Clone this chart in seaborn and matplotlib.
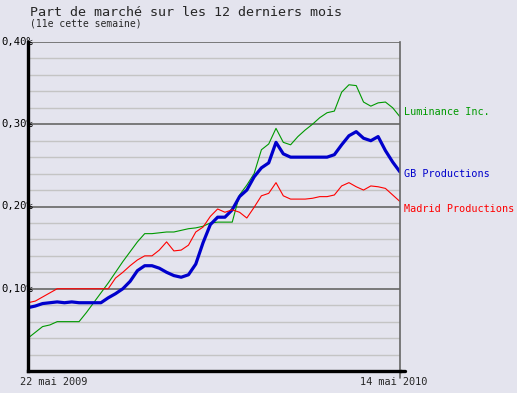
import pandas as pd
import numpy as np
import seaborn as sns
import matplotlib.pyplot as plt

# weekly market share, 22 mai 2009 -> 14 mai 2010
weeks = pd.date_range("2009-05-22", periods=52, freq="7D")

luminance = [0.040, 0.047, 0.054, 0.056, 0.060, 0.060, 0.060, 0.060, 0.071, 0.083,
             0.095, 0.107, 0.120, 0.133, 0.145, 0.157, 0.167, 0.167, 0.168, 0.169,
             0.169, 0.171, 0.173, 0.174, 0.176, 0.180, 0.181, 0.181, 0.181, 0.214,
             0.226, 0.240, 0.269, 0.276, 0.295, 0.278, 0.275, 0.285, 0.293, 0.300,
             0.308, 0.314, 0.316, 0.339, 0.348, 0.347, 0.327, 0.322, 0.326, 0.327,
             0.320, 0.309]
gb = [0.077, 0.079, 0.082, 0.083, 0.084, 0.083, 0.084, 0.083, 0.083, 0.083,
      0.083, 0.089, 0.094, 0.100, 0.109, 0.122, 0.128, 0.128, 0.125, 0.120,
      0.116, 0.114, 0.117, 0.130, 0.156, 0.178, 0.187, 0.187, 0.196, 0.212,
      0.220, 0.236, 0.247, 0.253, 0.278, 0.264, 0.260, 0.260, 0.260, 0.260,
      0.260, 0.260, 0.263, 0.275, 0.286, 0.291, 0.283, 0.280, 0.285, 0.268,
      0.254, 0.242]
madrid = [0.083, 0.085, 0.090, 0.095, 0.100, 0.100, 0.100, 0.100, 0.100, 0.100,
          0.100, 0.100, 0.113, 0.120, 0.128, 0.135, 0.140, 0.140, 0.147, 0.157,
          0.146, 0.147, 0.153, 0.169, 0.175, 0.188, 0.197, 0.193, 0.196, 0.193,
          0.186, 0.199, 0.213, 0.216, 0.229, 0.213, 0.209, 0.209, 0.209, 0.210,
          0.212, 0.212, 0.214, 0.225, 0.229, 0.224, 0.220, 0.225, 0.224, 0.222,
          0.214, 0.206]

series_names = ["Luminance Inc.", "GB Productions", "Madrid Productions"]
colors = ["#009900", "#0000CC", "#FF0000"]
widths = [0.8, 2.3, 0.8]

df = pd.DataFrame({
    "week": np.tile(weeks, 3),
    "share": luminance + gb + madrid,
    "company": np.repeat(series_names, 52),
})

bg = "#E4E4EE"
sns.set_style("white")
plt.rcParams["font.family"] = ["DejaVu Sans Mono"]

fig = plt.figure(figsize=(5.17, 3.93), dpi=100, facecolor=bg)
ax = fig.add_axes([28 / 517, 22 / 393, 372 / 517, 329 / 393])
ax.set_facecolor(bg)

for name, col, lw in zip(series_names, colors, widths):
    sns.lineplot(data=df[df["company"] == name], x="week", y="share",
                 color=col, linewidth=lw, ax=ax, zorder=3)

ax.set_xlim(weeks[0], weeks[-1])
ax.set_ylim(0, 0.40)

# grid: minor every 0.02, major every 0.10
for v in np.arange(0.02, 0.40, 0.02):
    major = abs(v * 10 - round(v * 10)) < 1e-6
    ax.axhline(v, color="#666666" if major else "#C4C4C4", lw=1.2 if major else 1.0, zorder=1)
ax.axhline(0.40, color="#666666", lw=1.2, zorder=1)

ax.set_xticks([])
ax.set_yticks([])
ax.set_xlabel("")
ax.set_ylabel("")
if ax.get_legend():
    ax.get_legend().remove()

ax.spines["top"].set_visible(False)
ax.spines["left"].set_color("black")
ax.spines["left"].set_linewidth(2.4)
ax.spines["bottom"].set_color("black")
ax.spines["bottom"].set_linewidth(2.4)
ax.spines["right"].set_color("#666666")
ax.spines["right"].set_linewidth(1.2)
for s in ax.spines.values():
    s.set_zorder(6)
# extend bottom axis and right line a bit past the corner
ax.plot([1.0, 1.014], [0, 0], transform=ax.transAxes, color="black", lw=2.4, clip_on=False, zorder=6)
ax.plot([1.0, 1.0], [0, -0.022], transform=ax.transAxes, color="#666666", lw=1.2, clip_on=False)

for v, lab in [(0.40, "0,40%"), (0.30, "0,30%"), (0.20, "0,20%"), (0.10, "0,10%")]:
    ax.text(0.014, v, lab, transform=ax.get_yaxis_transform(), ha="right", va="center",
            fontsize=7.6, color="black", zorder=5)

ax.text(-0.022, -0.018, "22 mai 2009", transform=ax.transAxes, ha="left", va="top", fontsize=7.4)
ax.text(0.892, -0.018, "14 mai 2010", transform=ax.transAxes, ha="left", va="top", fontsize=7.4)

label_y = [0.315, 0.240, 0.197]
for name, col, yv in zip(series_names, colors, label_y):
    ax.text(1.012, yv, name, transform=ax.get_yaxis_transform(), ha="left", va="center",
            fontsize=7.3, color=col)

fig.text(30 / 517, 1 - 13 / 393, "Part de marché sur les 12 derniers mois",
         ha="left", va="center", fontsize=9.6)
fig.text(30 / 517, 1 - 24 / 393, "(11e cette semaine)",
         ha="left", va="center", fontsize=7.0)

fig.savefig("out.png", dpi=100, facecolor=bg)
